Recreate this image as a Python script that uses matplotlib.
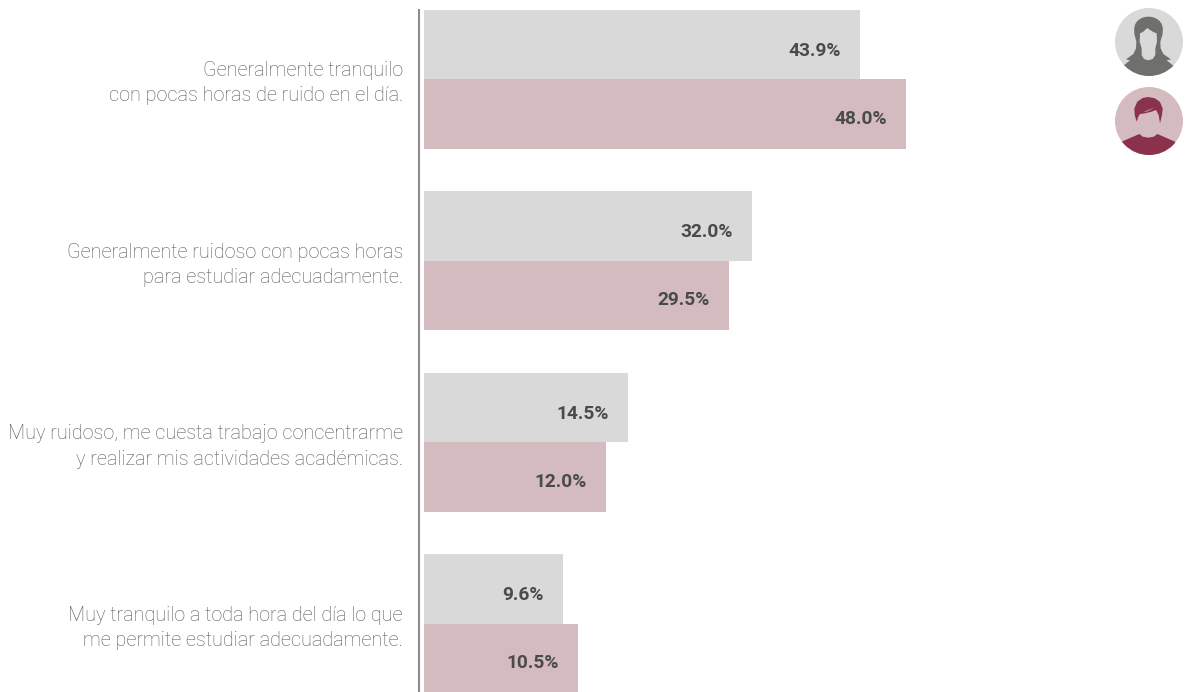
import matplotlib
matplotlib.use("Agg")
import matplotlib.pyplot as plt
from matplotlib.patches import Circle, Ellipse, Polygon
import numpy as np

# ---------------------------------------------------
# DATA
# ---------------------------------------------------
categories = [
    "Generalmente tranquilo\ncon pocas horas de ruido en el día.",
    "Generalmente ruidoso con pocas horas\npara estudiar adecuadamente.",
    "Muy ruidoso, me cuesta trabajo concentrarme\ny realizar mis actividades académicas.",
    "Muy tranquilo a toda hora del día lo que\nme permite estudiar adecuadamente.",
]
# the drawn bar lengths are not proportional to the printed percentages
women_lengths = [436, 328, 204, 139]
men_lengths = [482, 305, 182, 154]
women_labels = ["43.9%", "32.0%", "14.5%", "9.6%"]
men_labels = ["48.0%", "29.5%", "12.0%", "10.5%"]

GREY = "#d9d9d9"
PINK = "#d4bbc0"
W, H = 1186, 692
FONT = "Roboto"

fig = plt.figure(figsize=(W / 100, H / 100), dpi=100, facecolor="white")

# ---------------------------------------------------
# BARS
# ---------------------------------------------------
ax = fig.add_axes([424 / W, 0, (W - 424) / W, 1])
step = 181.6
ax.set_xlim(0, W - 424)
ax.set_ylim((H - 79) / step, -79 / step)

y = np.arange(len(categories))
bar_h = 69.5 / step
ax.barh(y - bar_h / 2, women_lengths, height=bar_h, color=GREY)
ax.barh(y + bar_h / 2, men_lengths, height=bar_h, color=PINK)

for i in y:
    ax.annotate(women_labels[i], (women_lengths[i], i - bar_h / 2), xytext=(-13.8, -4.5),
                textcoords="offset points", ha="right", va="center",
                fontsize=13.8, fontweight="bold", color="#4a4a4a", family=FONT)
    ax.annotate(men_labels[i], (men_lengths[i], i + bar_h / 2), xytext=(-13.8, -3.5),
                textcoords="offset points", ha="right", va="center",
                fontsize=13.8, fontweight="bold", color="#4a4a4a", family=FONT)
    ax.annotate(categories[i], (0, i), xytext=(-15.2, -3), textcoords="offset points",
                ha="right", va="center", ma="right", fontsize=14.3, fontweight="light",
                color="#5a5a5a", family=FONT, linespacing=1.42, annotation_clip=False)

for s in ["top", "right", "bottom"]:
    ax.spines[s].set_visible(False)
ax.spines["left"].set_position(("outward", 3.6))
ax.spines["left"].set_linewidth(1.5)
ax.spines["left"].set_color("#8c8c8c")
ax.spines["left"].set_bounds(-69.5 / step, ax.get_ylim()[0])
ax.set_xticks([])
ax.set_yticks([])
ax.patch.set_alpha(0)

# ---------------------------------------------------
# ICONS (overlay in pixel units)
# ---------------------------------------------------
ov = fig.add_axes([0, 0, 1, 1])
ov.set_xlim(0, W)
ov.set_ylim(H, 0)
ov.axis("off")
ov.patch.set_alpha(0)


def zoomed(points):
    return [(1090 + a / 3, b / 3) for a, b in points]


def clipped(patch, clip):
    ov.add_patch(patch)
    patch.set_clip_path(clip)


# woman
disc = Circle((1149, 42), 34, color=GREY, lw=0)
ov.add_patch(disc)
dark = "#6f6f6b"
ov.add_patch(Ellipse((1090 + 175.5 / 3, 85 / 3), 85 / 3, 70 / 3, color=dark, lw=0))
woman = zoomed([(133, 85), (133, 102), (139, 125), (138, 145), (130, 162), (108, 178), (120, 181),
                (100, 197), (95, 240), (255, 240), (250, 197), (230, 181), (243, 178), (220, 162),
                (212, 145), (211, 125), (218, 102), (218, 85)])
clipped(Polygon(woman, color=dark, lw=0), disc)
face = zoomed([(150, 100), (160, 95), (172, 84), (180, 90), (190, 96), (200, 100), (201, 125),
               (196, 145), (196, 165), (188, 177), (175, 181), (162, 177), (155, 165), (155, 145),
               (149, 125)])
ov.add_patch(Polygon(face, color=GREY, lw=0))

# man
disc2 = Circle((1149, 121), 34, color=PINK, lw=0)
ov.add_patch(disc2)
red = "#8a314c"
body = zoomed([(95, 425), (148, 402), (158, 410), (175, 413), (192, 410), (202, 402), (255, 425),
               (255, 480), (95, 480)])
clipped(Polygon(body, color=red, lw=0), disc2)
hair = zoomed([(140, 365), (134, 345), (133, 325), (142, 305), (158, 294), (175, 291), (195, 295),
               (210, 306), (218, 325), (216, 345), (210, 370), (206, 345), (198, 330), (185, 335),
               (165, 340), (150, 342), (145, 350)])
ov.add_patch(Polygon(hair, color=red, lw=0))
ov.add_patch(Polygon(zoomed([(160, 336), (195, 322), (172, 334)]), color=PINK, lw=0))

fig.savefig("out.png", dpi=100)
